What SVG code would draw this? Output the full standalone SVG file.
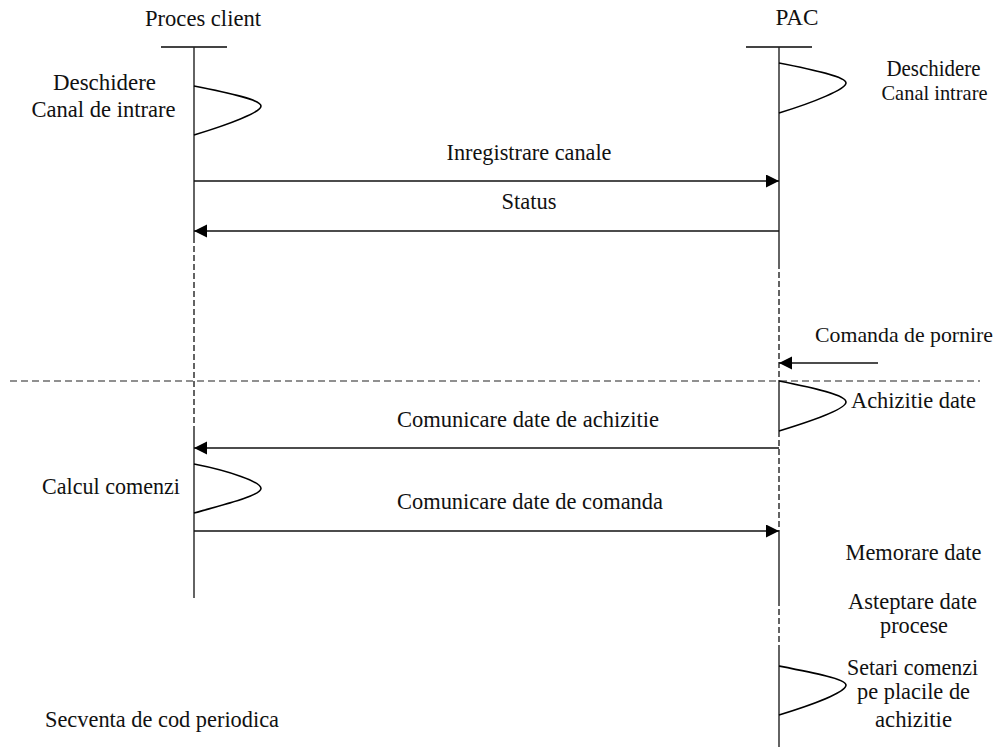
<svg xmlns="http://www.w3.org/2000/svg" width="998" height="747" viewBox="0 0 998 747">
  <style>
    text { font-family: "Liberation Serif", "Times New Roman", serif; font-size: 24px; fill: #111; }
    .mid { text-anchor: middle; }
    .edge { font-size: 22px; }
    .bar { stroke: #444; stroke-width: 2; fill: none; }
    .life { stroke: #222; stroke-width: 1.4; fill: none; }
    .lifed { stroke: #222; stroke-width: 1.4; fill: none; stroke-dasharray: 6 3; }
    .sep { stroke: #222; stroke-width: 1.2; fill: none; stroke-dasharray: 7 4; }
    .msg { stroke: #111; stroke-width: 1.4; fill: none; }
    .act { stroke: #000; stroke-width: 1.6; fill: none; }
  </style>
  <defs>
    <marker id="arrow" markerUnits="userSpaceOnUse" markerWidth="14" markerHeight="14" refX="13" refY="6.5" orient="auto">
      <path d="M0,0 L13,6.5 L0,13 z" fill="#000"/>
    </marker>
  </defs>
  <rect width="998" height="747" fill="#fff"/>

  <!-- separator between setup and periodic part -->
  <line class="sep" x1="10" y1="381" x2="980" y2="381"/>

  <!-- Proces client lifeline -->
  <g id="proces-client">
    <text class="mid" x="203" y="26" textLength="116" lengthAdjust="spacingAndGlyphs">Proces client</text>
    <line class="bar" x1="161" y1="47" x2="227" y2="47"/>
    <line class="life" x1="194" y1="47" x2="194" y2="237"/>
    <line class="lifed" x1="194" y1="237" x2="194" y2="430"/>
    <line class="life" x1="194" y1="430" x2="194" y2="598"/>
  </g>

  <!-- PAC lifeline -->
  <g id="pac">
    <text class="mid" x="797" y="25" textLength="43" lengthAdjust="spacingAndGlyphs">PAC</text>
    <line class="bar" x1="746" y1="47" x2="812" y2="47"/>
    <line class="life" x1="779" y1="47" x2="779" y2="263"/>
    <line class="lifed" x1="779" y1="263" x2="779" y2="381"/>
    <line class="life" x1="779" y1="381" x2="779" y2="431"/>
    <line class="lifed" x1="779" y1="431" x2="779" y2="533"/>
    <line class="life" x1="779" y1="533" x2="779" y2="600"/>
    <line class="lifed" x1="779" y1="600" x2="779" y2="645"/>
    <line class="life" x1="779" y1="645" x2="779" y2="747"/>
  </g>

  <!-- activities on the client side -->
  <g id="client-deschidere">
    <path class="act" d="M194,86 C230,93 261,100 261,106 C261,112 230,124 194,135"/>
    <text class="mid" x="104.5" y="90" textLength="103" lengthAdjust="spacingAndGlyphs">Deschidere</text>
    <text class="mid" x="103.5" y="117" textLength="144" lengthAdjust="spacingAndGlyphs">Canal de intrare</text>
  </g>
  <g id="client-calcul">
    <path class="act" d="M194,464 C230,471 261,482 261,488.5 C261,495 230,503 194,513"/>
    <text class="mid" x="111" y="494" textLength="138" lengthAdjust="spacingAndGlyphs">Calcul comenzi</text>
  </g>

  <!-- activities on the PAC side -->
  <g id="pac-deschidere">
    <path class="act" d="M779,63 C815,70 846,77 846,83 C846,89 815,102 779,113"/>
    <text class="mid" x="933.5" y="76" textLength="94" lengthAdjust="spacingAndGlyphs">Deschidere</text>
    <text class="mid edge" x="934.5" y="100" textLength="106" lengthAdjust="spacingAndGlyphs">Canal intrare</text>
  </g>
  <g id="pac-achizitie">
    <path class="act" d="M779,381 C815,388 846,395 846,402 C846,409 815,420 779,431"/>
    <text class="mid" x="913.5" y="408" textLength="125" lengthAdjust="spacingAndGlyphs">Achizitie date</text>
  </g>
  <g id="pac-memorare">
    <text class="mid" x="913.5" y="560" textLength="136" lengthAdjust="spacingAndGlyphs">Memorare date</text>
  </g>
  <g id="pac-asteptare">
    <text class="mid" x="912.5" y="609" textLength="129" lengthAdjust="spacingAndGlyphs">Asteptare date</text>
    <text class="mid" x="914" y="633" textLength="68" lengthAdjust="spacingAndGlyphs">procese</text>
  </g>
  <g id="pac-setari">
    <path class="act" d="M779,666 C815,673 846,679 846,685 C846,692 815,704 779,715"/>
    <text class="mid" x="912.5" y="675" textLength="131" lengthAdjust="spacingAndGlyphs">Setari comenzi</text>
    <text class="mid" x="913.5" y="699" textLength="113" lengthAdjust="spacingAndGlyphs">pe placile de</text>
    <text class="mid" x="913.5" y="727" textLength="77" lengthAdjust="spacingAndGlyphs">achizitie</text>
  </g>

  <g id="secventa">
    <text x="45" y="727" textLength="234" lengthAdjust="spacingAndGlyphs">Secventa de cod periodica</text>
  </g>

  <!-- messages -->
  <g id="connectors">
    <line class="msg" x1="194" y1="181" x2="779" y2="181" marker-end="url(#arrow)"/>
    <line class="msg" x1="779" y1="231" x2="194" y2="231" marker-end="url(#arrow)"/>
    <line class="msg" x1="878" y1="363" x2="779" y2="363" marker-end="url(#arrow)"/>
    <line class="msg" x1="779" y1="448" x2="194" y2="448" marker-end="url(#arrow)"/>
    <line class="msg" x1="194" y1="531" x2="779" y2="531" marker-end="url(#arrow)"/>
  </g>
  <g id="connector-labels">
    <text class="mid" x="529" y="160" textLength="165" lengthAdjust="spacingAndGlyphs">Inregistrare canale</text>
    <text class="mid" x="529" y="209" textLength="55" lengthAdjust="spacingAndGlyphs">Status</text>
    <text class="mid edge" x="904" y="342" textLength="178" lengthAdjust="spacingAndGlyphs">Comanda de pornire</text>
    <text class="mid" x="528" y="427" textLength="262" lengthAdjust="spacingAndGlyphs">Comunicare date de achizitie</text>
    <text class="mid" x="530" y="509" textLength="266" lengthAdjust="spacingAndGlyphs">Comunicare date de comanda</text>
  </g>
</svg>
